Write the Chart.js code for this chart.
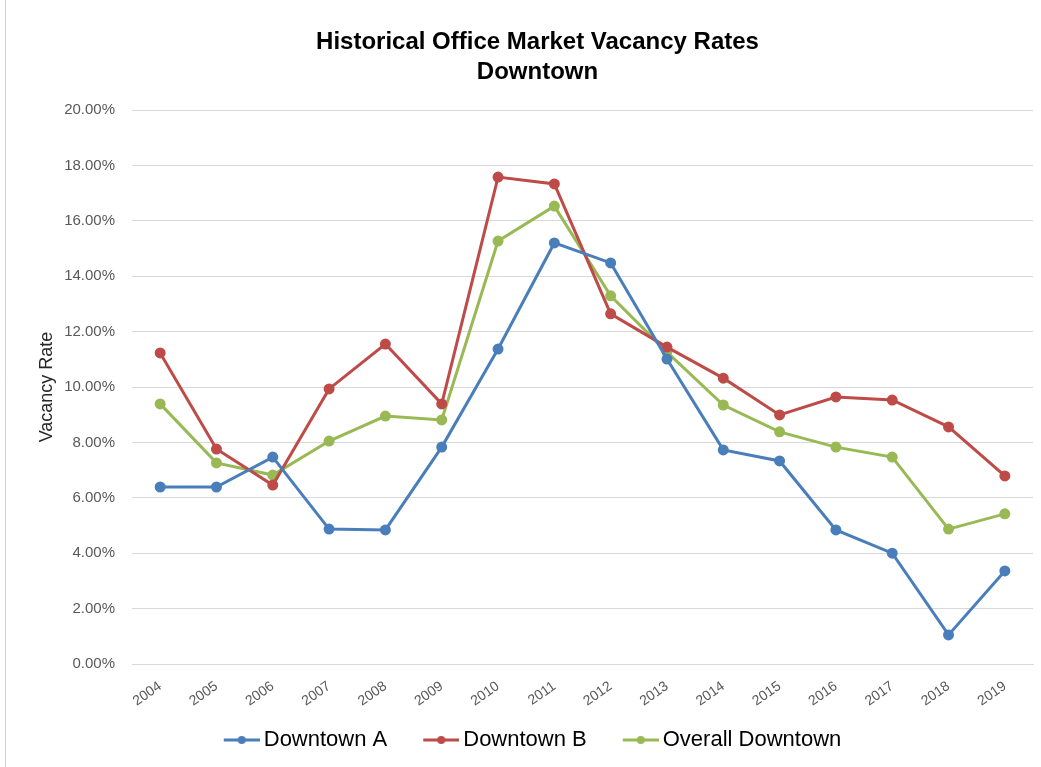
<!DOCTYPE html>
<html>
<head>
<meta charset="utf-8">
<script src="https://cdn.jsdelivr.net/npm/chart.js@4.4.0/dist/chart.umd.min.js"></script>
<style>
  html, body { margin: 0; padding: 0; background: #fff; }
  canvas { display: block; }
</style>
</head>
<body>
<canvas id="chart" width="1041" height="767"></canvas>
<script>
// data (percent)
const years = ['2004', '2005', '2006', '2007', '2008', '2009', '2010', '2011',
               '2012', '2013', '2014', '2015', '2016', '2017', '2018', '2019'];
const downtownA = [6.39, 6.39, 7.47, 4.87, 4.84, 7.83, 11.37, 15.20,
                   14.48, 11.01, 7.73, 7.33, 4.84, 4.00, 1.05, 3.36];
const downtownB = [11.23, 7.76, 6.46, 9.93, 11.55, 9.39, 17.58, 17.33,
                   12.64, 11.44, 10.32, 8.99, 9.64, 9.53, 8.56, 6.79];
const overall = [9.39, 7.26, 6.82, 8.05, 8.95, 8.81, 15.27, 16.53,
                 13.29, 11.26, 9.35, 8.38, 7.83, 7.47, 4.87, 5.42];
const seriesNames = ['Downtown A', 'Downtown B', 'Overall Downtown'];
const yTicks = [0, 2, 4, 6, 8, 10, 12, 14, 16, 18, 20];

const colors = ['#4a7ebb', '#be4b48', '#98b954'];
const font = "'Liberation Sans', Arial, sans-serif";

// legend marker: short line with a dot, like Excel.
// the image is wider than the marker so it sits close to its text
function legendMarker(color) {
    const c = document.createElement('canvas');
    c.width = 59; c.height = 12;
    const g = c.getContext('2d');
    g.strokeStyle = color;
    g.lineWidth = 3;
    g.beginPath(); g.moveTo(23, 6); g.lineTo(59, 6); g.stroke();
    g.fillStyle = color;
    g.beginPath(); g.arc(41, 6, 4, 0, Math.PI * 2); g.fill();
    return c;
}

function makeSet(label, data, color) {
    return {
        label: label,
        data: data,
        borderColor: color,
        backgroundColor: color,
        pointBackgroundColor: color,
        pointBorderColor: color,
        borderWidth: 3,
        pointRadius: 4,
        pointHoverRadius: 5,
        tension: 0,
        fill: false
    };
}

const frame = {
    id: 'frame',
    afterLayout(chart) {
        // title sits a bit right of the legend's centre in the original
        if (chart.titleBlock) {
            chart.titleBlock.left += 13;
            chart.titleBlock.right += 13;
        }
    },
    beforeDraw(chart) {
        const ctx = chart.ctx;
        ctx.save();
        ctx.fillStyle = '#fff';
        ctx.fillRect(0, 0, chart.width, chart.height);
        ctx.strokeStyle = '#d0d0d0';
        ctx.lineWidth = 1;
        ctx.beginPath(); ctx.moveTo(5.5, 0); ctx.lineTo(5.5, chart.height); ctx.stroke();
        ctx.restore();
    }
};

const ctx = document.getElementById('chart').getContext('2d');
const myChart = new Chart(ctx, {
    type: 'line',
    data: {
        labels: years,
        datasets: [
            makeSet(seriesNames[0], downtownA, colors[0]),
            makeSet(seriesNames[1], downtownB, colors[1]),
            makeSet(seriesNames[2], overall, colors[2])
        ]
    },
    plugins: [frame],
    options: {
        responsive: false,
        animation: false,
        layout: { padding: { left: 16, right: 8, top: 20, bottom: 14 } },
        scales: {
            x: {
                offset: true,
                grid: { display: false, offset: true },
                border: { color: '#d9d9d9', width: 1 },
                ticks: {
                    color: '#595959',
                    font: { family: font, size: 14 },
                    maxRotation: 35, minRotation: 35,
                    padding: 6
                },
                afterFit(scale) { scale.height = 45; }
            },
            y: {
                min: 0, max: 20,
                afterBuildTicks(scale) { scale.ticks = yTicks.map(v => ({ value: v })); },
                grid: { color: '#d9d9d9', lineWidth: 1, drawTicks: false },
                border: { display: false },
                ticks: {
                    color: '#595959',
                    font: { family: font, size: 15 },
                    padding: 17,
                    callback: v => v.toFixed(2) + '%'
                },
                title: {
                    display: true,
                    text: 'Vacancy Rate',
                    color: '#262626',
                    font: { family: font, size: 18 },
                    padding: { top: 20, bottom: 0 }
                },
                afterFit(scale) { scale.width = 116; }
            }
        },
        plugins: {
            title: {
                display: true,
                text: ['Historical Office Market Vacancy Rates', 'Downtown'],
                color: '#000',
                font: { family: font, size: 24, weight: 'bold', lineHeight: 1.25 },
                padding: { top: 7, bottom: 23 }
            },
            legend: {
                position: 'bottom',
                maxHeight: 44,
                labels: {
                    usePointStyle: true,
                    pointStyleWidth: 45,
                    color: '#000',
                    font: { family: font, size: 22 },
                    padding: 20,
                    generateLabels(chart) {
                        return chart.data.datasets.map((ds, i) => ({
                            text: ds.label,
                            pointStyle: legendMarker(colors[i]),
                            fillStyle: colors[i],
                            strokeStyle: colors[i],
                            lineWidth: 0,
                            datasetIndex: i,
                            hidden: false,
                            fontColor: '#000'
                        }));
                    }
                }
            },
            tooltip: { enabled: false }
        }
    }
});
</script>
</body>
</html>
